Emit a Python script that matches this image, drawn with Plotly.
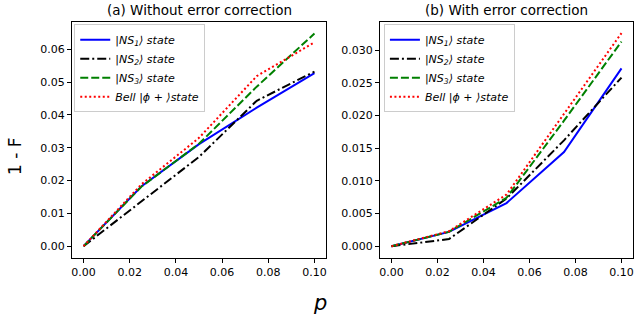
import plotly.graph_objects as go

p = [0.0, 0.025, 0.05, 0.075, 0.1]

# (a) Without error correction
a_ns1 = [0.0, 0.0182, 0.0311, 0.0422, 0.0527]
a_ns2 = [0.0, 0.0136, 0.0272, 0.0443, 0.0532]
a_ns3 = [0.0, 0.0181, 0.0312, 0.0486, 0.0648]
a_bell = [0.0, 0.0188, 0.0330, 0.0518, 0.0621]

# (b) With error correction
b_ns1 = [0.0, 0.0022, 0.0066, 0.0144, 0.0272]
b_ns2 = [0.0, 0.0011, 0.0073, 0.0162, 0.0258]
b_ns3 = [0.0, 0.0022, 0.0074, 0.0192, 0.0313]
b_bell = [0.0, 0.0023, 0.0079, 0.0203, 0.0326]

names = ["<i>|NS<sub>1</sub>⟩ state</i>", "<i>|NS<sub>2</sub>⟩ state</i>",
         "<i>|NS<sub>3</sub>⟩ state</i>", "<i>Bell |ϕ + ⟩state</i>"]
colors = ["#0000ff", "#000000", "#008000", "#ff0000"]
dashes = ["solid", "9px,3px,2px,3px", "8px,3px", "2px,2.5px"]

fig = go.Figure()
for series, xa, ya, lg in [([a_ns1, a_ns2, a_ns3, a_bell], "x", "y", "legend"),
                           ([b_ns1, b_ns2, b_ns3, b_bell], "x2", "y2", "legend2")]:
    for vals, nm, c, d in zip(series, names, colors, dashes):
        fig.add_trace(go.Scatter(x=p, y=vals, mode="lines", name=nm,
                                 line=dict(color=c, width=2, dash=d),
                                 xaxis=xa, yaxis=ya, legend=lg))

font = dict(family="DejaVu Sans", size=11, color="black")
axcommon = dict(showline=True, mirror=True, linecolor="black", linewidth=1,
                ticks="outside", ticklen=4, tickcolor="black", showgrid=False,
                zeroline=False, tickfont=font)

legcommon = dict(font=dict(family="DejaVu Sans", size=11, color="black"),
                 bgcolor="rgba(255,255,255,0.8)", bordercolor="#cccccc",
                 borderwidth=1, itemwidth=30, tracegroupgap=0,
                 yanchor="top", xanchor="left")

title_font = dict(family="DejaVu Sans", size=13.5, color="black")

fig.update_layout(
    width=634, height=320,
    margin=dict(l=72, r=1, t=22, b=62),
    paper_bgcolor="white", plot_bgcolor="white",
    font=font,
    xaxis=dict(domain=[0, 0.4528], range=[-0.005, 0.105], dtick=0.02,
               tickformat=".2f", anchor="y", **axcommon),
    yaxis=dict(range=[-0.0036, 0.0683], dtick=0.01, tickformat=".2f",
               anchor="x", **axcommon),
    xaxis2=dict(domain=[0.549, 1], range=[-0.005, 0.105], dtick=0.02,
                tickformat=".2f", anchor="y2", **axcommon),
    yaxis2=dict(range=[-0.0018, 0.0343], dtick=0.005, tickformat=".3f",
                anchor="x2", **axcommon),
    legend=dict(x=0.004, y=0.99, **legcommon),
    legend2=dict(x=0.556, y=0.99, **legcommon),
    annotations=[
        dict(text="(a) Without error correction", xref="paper", yref="paper",
             x=0.2264, y=1.0, xanchor="center", yanchor="bottom", yshift=2,
             showarrow=False, font=title_font),
        dict(text="(b) With error correction", xref="paper", yref="paper",
             x=0.7745, y=1.0, xanchor="center", yanchor="bottom", yshift=2,
             showarrow=False, font=title_font),
        dict(text="1 - F", xref="paper", yref="paper", x=-0.1016, y=0.432,
             textangle=-90, showarrow=False, xanchor="center", yanchor="middle",
             font=dict(family="DejaVu Sans", size=17, color="black")),
        dict(text="<i>p</i>", xref="paper", yref="paper", x=0.442, y=-0.192,
             showarrow=False, xanchor="center", yanchor="middle",
             font=dict(family="DejaVu Sans", size=21, color="black")),
    ],
)

fig.write_html("out.html")
